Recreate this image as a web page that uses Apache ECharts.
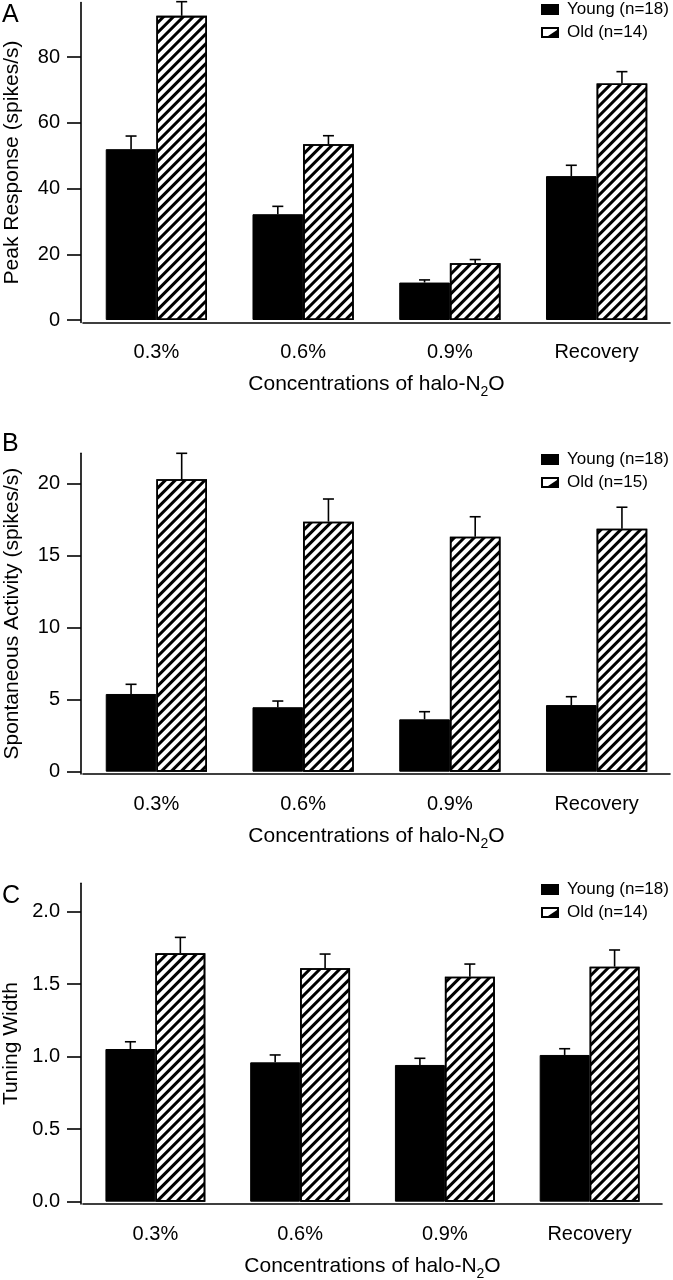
<!DOCTYPE html>
<html>
<head>
<meta charset="utf-8">
<script src="https://cdn.jsdelivr.net/npm/echarts@6/dist/echarts.min.js"></script>
<style>
html,body{margin:0;padding:0;background:#fff;}
#chart{width:673px;height:1280px;}
</style>
</head>
<body>
<div id="chart"></div>
<script>
// ---- data ----
const categories = ['0.3%', '0.6%', '0.9%', 'Recovery'];

const youngA = [52.0, 32.2, 11.4, 43.8];
const youngErrA = [4.0, 2.4, 0.8, 3.3];
const oldA = [92.6, 53.5, 17.3, 72.0];
const oldErrA = [4.3, 2.6, 1.1, 3.6];

const youngB = [5.39, 4.47, 3.63, 4.62];
const youngErrB = [0.67, 0.43, 0.53, 0.58];
const oldB = [20.28, 17.34, 16.30, 16.85];
const oldErrB = [1.80, 1.57, 1.38, 1.49];

const youngC = [1.053, 0.961, 0.943, 1.012];
const youngErrC = [0.050, 0.051, 0.046, 0.043];
const oldC = [1.713, 1.610, 1.552, 1.621];
const oldErrC = [0.110, 0.098, 0.087, 0.115];

const yTicksA = [0, 20, 40, 60, 80];
const yTicksB = [0, 5, 10, 15, 20];
const yTicksC = [0, 0.5, 1.0, 1.5, 2.0];

const legendA = ['Young (n=18)', 'Old (n=14)'];
const legendB = ['Young (n=18)', 'Old (n=15)'];
const legendC = ['Young (n=18)', 'Old (n=14)'];

const yNames = ['Peak Response (spikes/s)', 'Spontaneous Activity (spikes/s)', 'Tuning Width'];
const xName = 'Concentrations of halo-N{sub|2}O';
const panelLetters = ['A', 'B', 'C'];

// ---- styling ----
const FONT = '"Liberation Sans", Arial, Helvetica, sans-serif';
const GAP = 0.31;
const OLD_ICON = 'path://M0 0 L18 0 L18 11 L0 11 Z M2 2 L2 9 L16 9 L16 2 Z M16 3 L16 9 L7 9 Z';
const hatch = {
  symbol: 'rect', symbolSize: 1,
  dashArrayX: [1, 0], dashArrayY: [3, 4],
  rotation: -Math.PI / 4, color: '#000'
};

const grids = [
  {left: 83, right: 3, top: 2.5, height: 320, outerBoundsMode: 'none', containLabel: false},
  {left: 83, right: 3, top: 453.3, height: 320.7, outerBoundsMode: 'none', containLabel: false},
  {left: 83, right: 11, top: 883.3, height: 320.7, outerBoundsMode: 'none', containLabel: false}
];
const yRanges = [[-0.76, 96.65], [-0.16, 22.08], [-0.016, 2.196]];
const yTicks = [yTicksA, yTicksB, yTicksC];
const legendTops = [1, 451, 881];
const legends = [legendA, legendB, legendC];
const young = [youngA, youngB, youngC];
const youngErr = [youngErrA, youngErrB, youngErrC];
const old = [oldA, oldB, oldC];
const oldErr = [oldErrA, oldErrB, oldErrC];

function errRender(side) {
  return function (params, api) {
    const c = api.value(0), v = api.value(1), e = api.value(2);
    const base = api.coord([c, v]);
    const top = api.coord([c, v + e]);
    const catW = api.size([1, 0])[0];
    const x = base[0] + side * catW * (1 - GAP) / 4;
    const st = {stroke: '#000', lineWidth: 1.6};
    return {type: 'group', children: [
      {type: 'line', shape: {x1: x, y1: base[1], x2: x, y2: top[1]}, style: st},
      {type: 'line', shape: {x1: x - 5.5, y1: top[1], x2: x + 5.5, y2: top[1]}, style: st}
    ]};
  };
}

const xAxes = [], yAxes = [], series = [], legendOpts = [], titles = [];
for (let p = 0; p < 3; p++) {
  xAxes.push({
    type: 'category', gridIndex: p, data: categories,
    axisLine: {onZero: false, lineStyle: {color: '#000', width: 1.6}},
    axisTick: {length: 12.5, lineStyle: {color: '#000', width: 1.6}},
    axisLabel: {color: '#000', fontSize: 20, fontFamily: FONT, margin: 20},
    name: xName, nameLocation: 'middle', nameGap: 47,
    nameTextStyle: {color: '#000', fontSize: 21, fontFamily: FONT,
      rich: {sub: {fontSize: 14, fontFamily: FONT, color: '#000', padding: [16, 0, 0, 0]}}}
  });
  const ticks = yTicks[p];
  yAxes.push({
    type: 'value', gridIndex: p, min: yRanges[p][0], max: yRanges[p][1], offset: 2,
    splitLine: {show: false},
    axisLine: {show: true, lineStyle: {color: '#000', width: 1.6}},
    axisTick: {show: true, length: 14, customValues: ticks, lineStyle: {color: '#000', width: 1.6}},
    axisLabel: {color: '#000', fontSize: 20, fontFamily: FONT, margin: 21, customValues: ticks,
      formatter: p === 2 ? (v) => v.toFixed(1) : (v) => String(v)},
    name: yNames[p], nameLocation: 'middle', nameGap: 58,
    nameTextStyle: {color: '#000', fontSize: 21, fontFamily: FONT}
  });
  const names = legends[p];
  series.push({
    type: 'bar', name: names[0], xAxisIndex: p, yAxisIndex: p,
    data: young[p], barGap: '0%', barCategoryGap: (GAP * 100) + '%',
    itemStyle: {color: '#000', borderColor: '#000', borderWidth: 1}
  });
  series.push({
    type: 'bar', name: names[1], xAxisIndex: p, yAxisIndex: p,
    data: old[p], barGap: '0%', barCategoryGap: (GAP * 100) + '%',
    itemStyle: {color: '#fff', borderColor: '#000', borderWidth: 1.6, decal: hatch}
  });
  series.push({
    type: 'custom', name: 'errY' + p, xAxisIndex: p, yAxisIndex: p, z: 5,
    renderItem: errRender(-1),
    data: young[p].map((v, i) => [i, v, youngErr[p][i]])
  });
  series.push({
    type: 'custom', name: 'errO' + p, xAxisIndex: p, yAxisIndex: p, z: 5,
    renderItem: errRender(1),
    data: old[p].map((v, i) => [i, v, oldErr[p][i]])
  });
  legendOpts.push({
    orient: 'vertical', left: 541, top: legendTops[p], padding: 0,
    itemWidth: 18, itemHeight: 11, itemGap: 6, selectedMode: false,
    textStyle: {color: '#000', fontSize: 17, fontFamily: FONT, padding: [0, 0, 0, 3]},
    data: [
      {name: names[0], icon: 'rect', itemStyle: {color: '#000', borderWidth: 0}},
      {name: names[1], icon: OLD_ICON, itemStyle: {color: '#000', borderWidth: 0, decal: 'none'}}
    ]
  });
  titles.push({
    text: panelLetters[p], left: 2, top: [3, 432, 884][p], padding: 0,
    textStyle: {color: '#000', fontSize: 25, fontWeight: 'normal', fontFamily: FONT}
  });
}

const chart = echarts.init(document.getElementById('chart'), null, {renderer: 'canvas'});
chart.setOption({
  backgroundColor: '#fff',
  animation: false,
  title: titles,
  legend: legendOpts,
  grid: grids,
  xAxis: xAxes,
  yAxis: yAxes,
  series: series
});
</script>
</body>
</html>
